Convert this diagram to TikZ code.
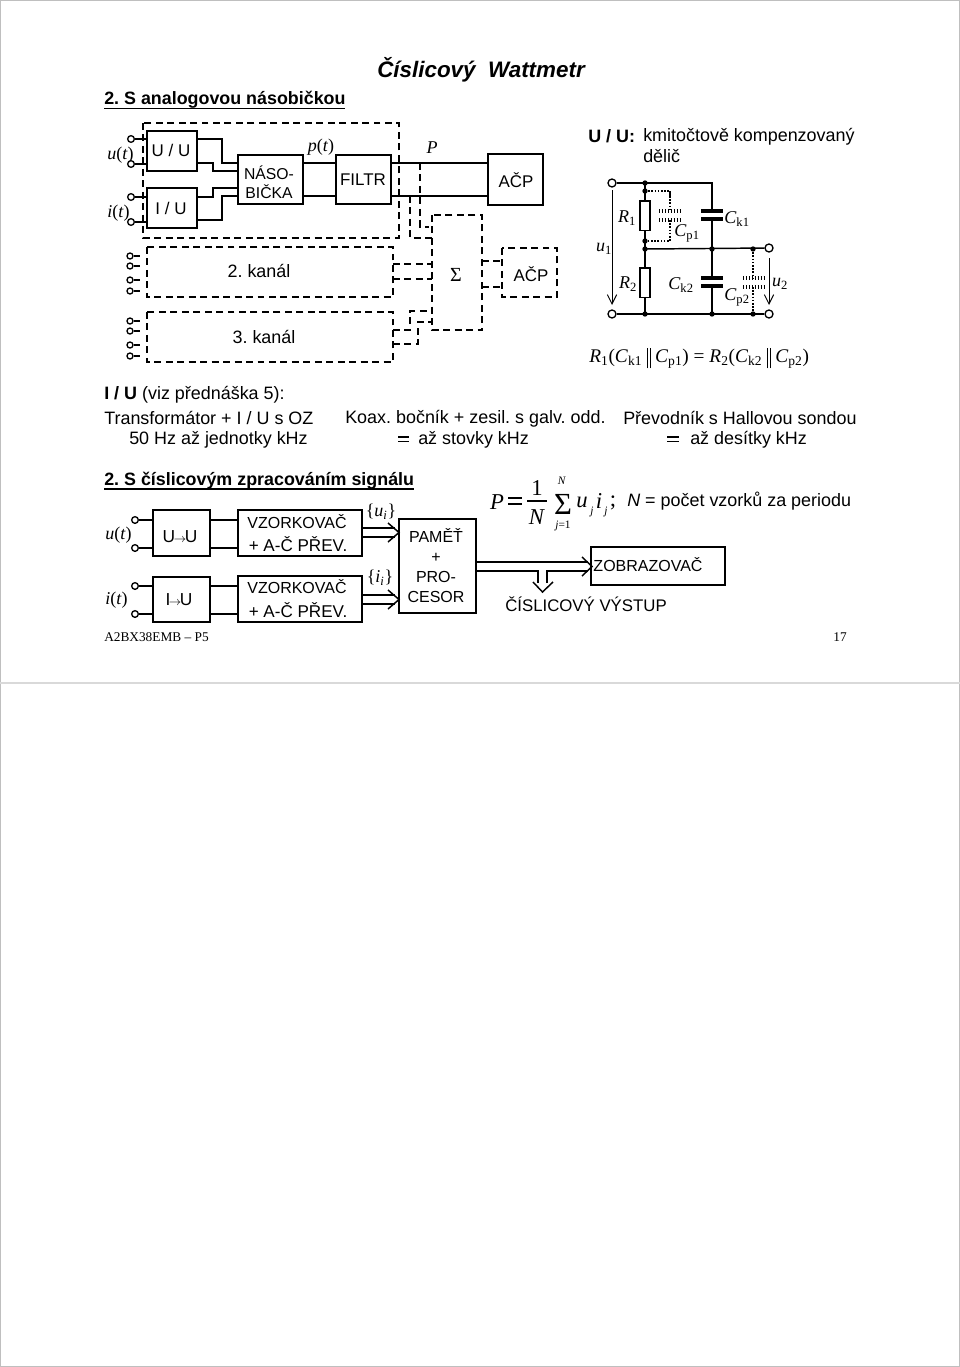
\documentclass[tikz,border=0pt]{standalone}
\usepackage{fontspec}
\setmainfont{Liberation Sans}
\newfontfamily\tnr{Liberation Serif}
\usetikzlibrary{arrows.meta}
\AtBeginDocument{\frenchspacing}
\tikzset{
 x=0.75pt,y=-0.75pt,
 solidw/.style={line width=1.1pt,black},
 boxs/.style={draw,line width=1.4pt,anchor=center,inner sep=0pt},
 dline/.style={line width=1.1pt,dash pattern=on 5.2pt off 3.4pt},
 term/.style={circle,draw,line width=1pt,fill=white,minimum size=5pt,inner sep=0pt},
 jn/.style={circle,fill=black,minimum size=4pt,inner sep=0pt},
 txt/.style={inner sep=0pt,font=\fontsize{13.45}{15}\selectfont},
 blk/.style={inner sep=0pt,font=\fontsize{12.7}{15}\selectfont},
 ser/.style={inner sep=0pt,font=\tnr\fontsize{13.5}{15}\selectfont},
 fml/.style={inner sep=0pt,font=\tnr\fontsize{17}{17}\selectfont},
 fsm/.style={inner sep=0pt,font=\tnr\fontsize{8.5}{9}\selectfont},
 foot/.style={inner sep=0pt,font=\tnr\fontsize{10}{11}\selectfont},
 dott/.style={line width=1pt,dash pattern=on 1.2pt off 1.2pt},
 plate/.style={line width=3pt},
 dplate/.style={line width=3pt,dash pattern=on 1.1pt off 1.1pt},
 openh/.style={line width=1.1pt,line join=miter},
 garrow/.style={line width=0.7pt,-{Straight Barb[length=7pt,width=7pt,line width=0.7pt]}},
}
\newcommand{\mi}[1]{\textit{#1}}
\newcommand{\dbar}{\hspace{3.5pt}\rule[-4.5pt]{.55pt}{15.5pt}\hspace{1.6pt}\rule[-4.5pt]{.55pt}{15.5pt}\hspace{3.5pt}}
\begin{document}
\begin{tikzpicture}
\useasboundingbox (0,0) rectangle (960,1367);
\fill[white] (0,0) rectangle (960,1367);
\draw[gray!50,line width=.7pt] (0.5,0.5) rectangle (959.5,1366);
\draw[gray!30,line width=1.2pt] (0,683)--(960,683);
% titles
\node[txt,font=\bfseries\itshape\fontsize{16.8}{19}\selectfont] (title) at (481,70) {Číslicový\ \ Wattmetr};
\node[txt,anchor=west,font=\fontsize{13.4}{15}\selectfont\bfseries] (h1) at (104,100) {2. S analogovou násobičkou};
\draw[line width=1pt] (104,108.5)--(345,108.5);
% top-left chain
\node[boxs,minimum width=37.5pt,minimum height=30pt] (uu) at (172,151) {};
\node[blk] at (171,150) {U / U};
\node[boxs,minimum width=37.5pt,minimum height=30pt] (iu) at (172,208) {};
\node[blk] at (171,208) {I / U};
\node[boxs,minimum width=48.75pt,minimum height=36.75pt] (nas) at (270.5,179.5) {};
\node[inner sep=0pt,align=center,font=\fontsize{11.8}{14}\selectfont] at (269,182) {NÁSO-\\BIČKA};
\node[boxs,minimum width=41.25pt,minimum height=36.75pt] (fil) at (363.5,179.5) {};
\node[blk] at (363,180) {FILTR};
\node[boxs,minimum width=41.25pt,minimum height=38.25pt] (acp) at (515.5,179.5) {};
\node[blk] at (516,180) {AČP};
\node[term] (t1) at (131,139) {};
\node[term] (t2) at (131,164) {};
\node[term] (t3) at (131,197) {};
\node[term] (t4) at (131,222) {};
\draw[solidw] (t1)--(147,139) (t2)--(147,164) (t3)--(147,197) (t4)--(147,222);
\draw[solidw] (197,139)-|(222,163)--(238,163);
\draw[solidw] (197,163)-|(213,171)--(238,171);
\draw[solidw] (197,197)-|(213,188)--(238,188);
\draw[solidw] (197,220)-|(222,196)--(238,196);
\draw[solidw] (303,163)--(336,163) (303,196)--(336,196);
\draw[solidw] (391,163)--(488,163) (391,196)--(488,196);
% dashed
\draw[dline] (143,123) rectangle (399,238);
\draw[dline] (147,247) rectangle (393,297);
\draw[dline] (147,312) rectangle (393,362);
\draw[dline] (432,215) rectangle (482,330);
\draw[dline] (502,248) rectangle (557,297);
\draw[dline] (420,163)--(420,227)--(429,227);
\draw[dline] (410,196)--(410,238)--(432,238);
\draw[dline] (393,264)--(432,264);
\draw[dline] (393,279)--(432,279);
\draw[dline] (393,330)--(410,330)--(410,311)--(432,311);
\draw[dline] (393,344)--(418,344)--(418,322)--(432,322);
\draw[dline] (482,261)--(502,261);
\draw[dline] (482,287)--(502,287);
\node[ser,font=\tnr\fontsize{15}{15}\selectfont] at (456,275) {Σ};
\node[blk] at (531,274) {AČP};
\node[txt] at (259,271) {2. kanál};
\node[txt] at (264,337) {3. kanál};
\foreach \n/\yy in {a/256,b/266,c/280,d/291,e/321,f/331,g/345,h/356}{
  \node[term,minimum size=4.5pt] (k\n) at (130,\yy) {};
  \draw[solidw] (k\n)--(140,\yy);
}
\node[ser,anchor=west] at (107,155) {\mi{u}(\mi{t})};
\node[ser,anchor=west] at (107,213) {\mi{i}(\mi{t})};
\node[ser] at (321,147) {\mi{p}(\mi{t})};
\node[ser] at (432,148) {\mi{P}};
% UU label
\node[txt,anchor=west] at (588,136.5) {\textbf{U / U:}};
\node[txt,anchor=west] at (643,136.5) {kmitočtově kompenzovaný};
\node[txt,anchor=west] at (643,156) {dělič};
% circuit
\node[term,minimum size=6pt] (ut) at (612,183) {};
\node[term,minimum size=6pt] (ub) at (612,314) {};
\node[term,minimum size=6pt] (ot) at (769,248) {};
\node[term,minimum size=6pt] (ob) at (769,314) {};
\draw[solidw] (ut)--(712,183)--(712,314);
\draw[solidw] (ub)--(ob);
\draw[solidw] (645,249)--(ot);
\draw[solidw] (645,183)--(645,314);
\node[draw,fill=white,line width=1pt,minimum width=7.5pt,minimum height=22pt,inner sep=0pt] (r1) at (645,215.5) {};
\node[draw,fill=white,line width=1pt,minimum width=7.5pt,minimum height=22pt,inner sep=0pt] (r2) at (645,282.5) {};
\foreach \p in {(645,183),(645,191),(645,241),(645,249),(712,249),(753,249),(645,314),(712,314),(753,314)}
  \node[jn] at \p {};
\draw[dott] (645,191)--(670,191);
\draw[line width=1pt] (670,191)--(670,196);
\draw[dott] (670,196)--(670,211);
\draw[dott] (670,220)--(670,241)--(645,241);
\draw[dplate] (659,211)--(680,211) (659,220)--(680,220);
\draw[dott] (753,249)--(753,278) (753,287)--(753,314);
\draw[dplate] (743,278)--(764,278) (743,287)--(764,287);
\fill[white] (700,212) rectangle (724,218) (700,279) rectangle (724,285);
\draw[plate] (701,211)--(723,211) (701,219)--(723,219);
\draw[plate] (701,278)--(723,278) (701,286)--(723,286);
\draw[garrow] (612,190)--(612,305);
\draw[garrow] (769,258)--(769,305);
\node[ser] at (627,218) {\mi{R}\textsubscript{1}};
\node[ser] at (628,284) {\mi{R}\textsubscript{2}};
\node[ser] at (604,249) {\mi{u}\textsubscript{1}};
\node[ser] at (780,284) {\mi{u}\textsubscript{2}};
\node[ser] at (687,233) {\mi{C}\textsubscript{p1}};
\node[ser] at (737,219) {\mi{C}\textsubscript{k1}};
\node[ser] at (681,285) {\mi{C}\textsubscript{k2}};
\node[ser] at (737,297) {\mi{C}\textsubscript{p2}};
\node[ser,anchor=west,font=\tnr\fontsize{14.5}{15}\selectfont] at (589,358) {\mi{R}\textsubscript{1}(\mi{C}\textsubscript{k1}\dbar\mi{C}\textsubscript{p1}) = \mi{R}\textsubscript{2}(\mi{C}\textsubscript{k2}\dbar\mi{C}\textsubscript{p2})};
% middle text
\node[txt,anchor=west] at (104,395) {\textbf{I / U} (viz přednáška 5):};
\node[txt,anchor=west] at (104,418) {Transformátor + I / U s OZ};
\node[txt,anchor=west] at (345,419) {Koax. bočník + zesil. s galv. odd.};
\node[txt,anchor=west] at (623,418) {Převodník s Hallovou sondou};
\node[txt,anchor=west] at (129,440) {50 Hz až jednotky kHz};
\node[txt,anchor=west] at (418,439.5) {až stovky kHz};
\node[txt,anchor=west] at (690,439.5) {až desítky kHz};
\draw[line width=.9pt] (398,437)--(409,437) (398,441.5)--(409,441.5);
\draw[line width=.9pt] (667,437)--(679,437) (667,441.5)--(679,441.5);
% lower
\node[txt,anchor=west,font=\fontsize{13.4}{15}\selectfont\bfseries] (h2) at (104,481) {2. S číslicovým zpracováním signálu};
\draw[line width=1pt] (104,489)--(414,489);
\node[boxs,minimum width=42.75pt,minimum height=34.5pt] (a1) at (181.5,533) {};
\node[boxs,minimum width=42.75pt,minimum height=34pt] (a2) at (181.5,599.5) {};
\node[boxs,minimum width=93pt,minimum height=34.5pt] (b1) at (300,533) {};
\node[boxs,minimum width=93pt,minimum height=34.5pt] (b2) at (300,599) {};
\node[boxs,minimum width=57.75pt,minimum height=70.5pt] (pam) at (437.5,566) {};
\node[boxs,minimum width=100.5pt,minimum height=28.5pt] (zob) at (658,566) {};
\node[inner sep=0pt,font=\fontsize{13}{14}\selectfont] at (180,537) {U\hspace{-1pt}$\scriptstyle\rightarrow$\hspace{-1pt}U};
\node[inner sep=0pt,font=\fontsize{13}{14}\selectfont] at (179,600) {I\hspace{-1pt}$\scriptstyle\rightarrow$\hspace{-1pt}U};
\node[inner sep=0pt,font=\fontsize{12}{14}\selectfont] at (297,522) {VZORKOVAČ};
\node[inner sep=0pt,font=\fontsize{12.8}{14}\selectfont] at (298,544) {+ A-Č PŘEV.};
\node[inner sep=0pt,font=\fontsize{12}{14}\selectfont] at (297,587) {VZORKOVAČ};
\node[inner sep=0pt,font=\fontsize{12.8}{14}\selectfont] at (298,610) {+ A-Č PŘEV.};
\node[inner sep=0pt,align=center,font=\fontsize{12}{15}\selectfont] at (436,566) {PAMĚŤ\\+\\PRO-\\CESOR};
\node[inner sep=0pt,font=\fontsize{12}{14}\selectfont] at (648,565) {ZOBRAZOVAČ};
\node[inner sep=0pt,font=\fontsize{12.6}{14}\selectfont] at (586,604) {ČÍSLICOVÝ VÝSTUP};
\node[term] (c1) at (135,520) {};
\node[term] (c2) at (135,548) {};
\node[term] (c3) at (135,586) {};
\node[term] (c4) at (135,614) {};
\draw[solidw] (c1)--(153,520) (c2)--(153,548) (c3)--(153,586) (c4)--(153,614);
\draw[solidw] (210,520)--(238,520) (210,548)--(238,548) (210,586)--(238,586) (210,614)--(238,614);
\draw[solidw] (362,528)--(395,528) (362,537)--(395,537);
\draw[openh] (388,523)--(399,532.5)--(388,542);
\draw[solidw] (362,595)--(395,595) (362,604)--(395,604);
\draw[openh] (388,590)--(399,599.5)--(388,609);
\draw[solidw] (476,562)--(588,562) (476,571)--(538,571)--(538,583) (547,583)--(547,571)--(588,571);
\draw[openh] (582,557)--(592,566.5)--(582,576);
\draw[openh] (533,582)--(542.5,592)--(553,582);
\node[ser,anchor=west] at (105,535) {\mi{u}(\mi{t})};
\node[ser,anchor=west] at (105,600) {\mi{i}(\mi{t})};
\node[ser] at (381,512) {\{\mi{u}\textsubscript{\mi{i}}\}};
\node[ser] at (380,578) {\{\mi{i}\textsubscript{\mi{i}}\}};
% formula
\node[fml] at (497,502) {\mi{P}};
\draw[line width=.9pt] (508,498)--(522,498) (508,504)--(522,504);
\node[fml] at (537,488) {1};
\draw[line width=.9pt] (527,501)--(547,501);
\node[fml] at (537,517) {\mi{N}};
\node[inner sep=0pt,font=\tnr\fontsize{23}{23}\selectfont] at (563,504) {Σ};
\node[fsm] at (562,481) {\mi{N}};
\node[fsm] at (563,526) {\mi{j}=1};
\node[fml] at (582,502) {\mi{u}};
\node[fsm] at (592,512) {\mi{j}};
\node[fml] at (599,501) {\mi{i}};
\node[fsm] at (606,512) {\mi{j}};
\node[fml] at (613,503) {;};
\node[txt,anchor=west] at (627,501) {\textit{N} = počet vzorků za periodu};
% footer
\node[foot,anchor=west] at (104,637) {A2BX38EMB – P5};
\node[foot] at (840,637) {17};
\end{tikzpicture}
\end{document}
